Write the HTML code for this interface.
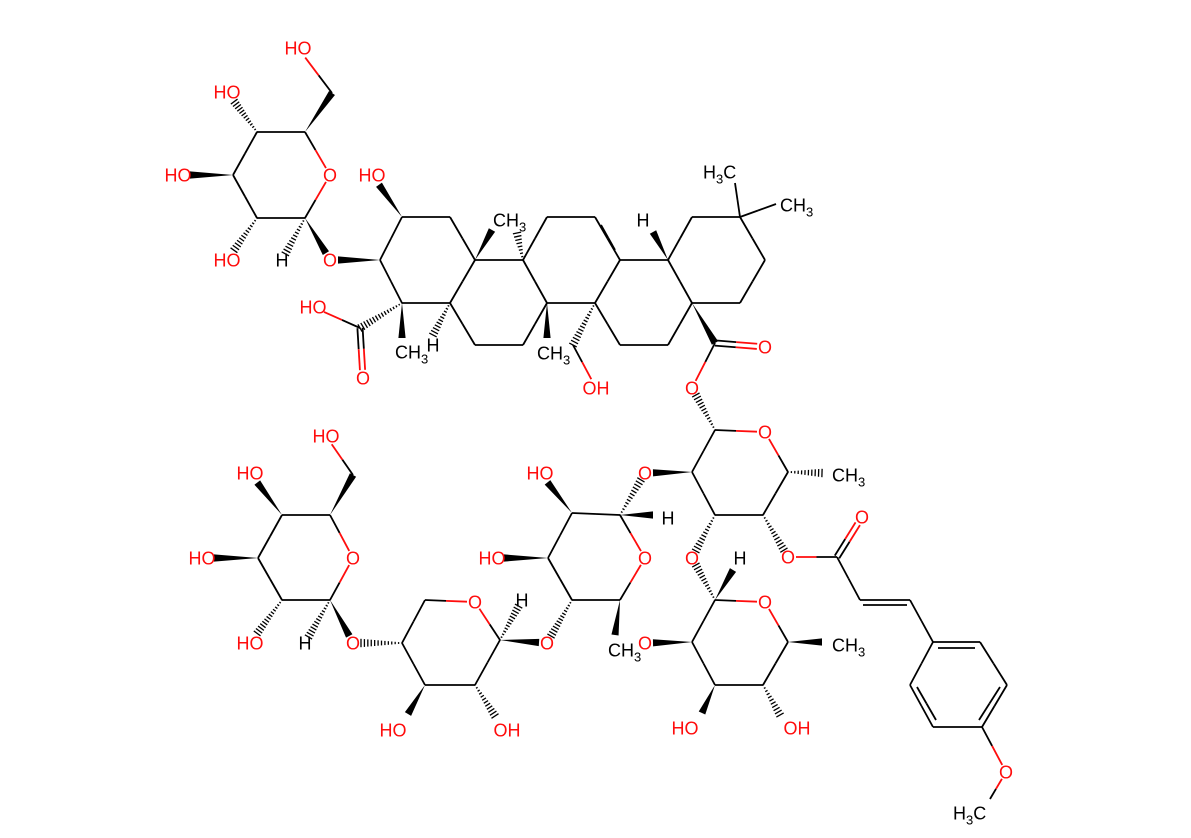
<!DOCTYPE html>
<html><head><meta charset="utf-8"><style>
html,body{margin:0;padding:0;background:#fff}
svg{display:block}
text{font-family:"Liberation Sans",sans-serif;font-size:18px}
</style></head><body>
<svg id="s" width="1191" height="838" xmlns="http://www.w3.org/2000/svg"></svg>
<script>
const S=document.getElementById('s');const NS='http://www.w3.org/2000/svg';
function el(n,a,p){const e=document.createElementNS(NS,n);for(const k in a)e.setAttribute(k,a[k]);(p||S).appendChild(e);return e;}
const R='#ff0d0d';
// labels: x,y,text,color,radius(anchor trim)
const L=[
[298,48,'HO',R,12],[227,92,'HO',R,12],[178,175,'HO',R,12],[330,175,'O',R,8],[227,260,'HO',R,12],[330,260,'O',R,8],
[372,175,'HO',R,12],[313,307,'HO',R,12],[363,378,'O',R,8],[596,388,'OH',R,10],[765,347,'O',R,8],[692,388,'O',R,8],
[765,432,'O',R,8],[645,473,'O',R,8],[788,557,'O',R,8],[862,517,'O',R,8],[692,558,'O',R,8],[765,602,'O',R,8],
[645,643,'O',R,8],[685,728,'HO',R,12],[797,728,'OH',R,12],[1006,772,'O',R,8],[645,558,'O',R,8],[540,473,'HO',R,12],
[492,558,'HO',R,12],[547,643,'O',R,8],[475,602,'O',R,8],[393,730,'HO',R,12],[507,730,'OH',R,12],[353,643,'O',R,8],
[326,436,'HO',R,10],[250,473,'HO',R,12],[202,558,'HO',R,12],[353,558,'O',R,8],[250,643,'HO',R,12],
[282,260,'H','#000',7],[433,345,'H','#000',0],[643,220,'H','#000',7],[668,518,'H','#000',7],[740,558,'H','#000',7],
[305,643,'H','#000',7],[522,600,'H','#000',7]
];
// CH3 labels: startx, y, type
const M=[[395,352,'C'],[493,220,'C'],[537,353,'C'],[780,205,'C'],[703,172,'H'],[832,475,'C'],[832,645,'C'],[608,650,'C'],[953,813,'H']];
const B=[
[332,93,298,48,'s'],[305,132,332,93,'w'],[305,132,330,175,'s'],[330,175,305,218,'s'],[305,218,257,218,'s'],[257,218,233,175,'s'],[233,175,257,132,'s'],[257,132,305,132,'s'],
[257,132,227,92,'h'],[233,175,178,175,'w'],[257,218,227,260,'h'],[305,218,282,260,'h'],[305,218,330,260,'w'],[380,260,330,260,'w'],
[380,260,402,217,'s'],[402,217,450,217,'s'],[450,217,475,260,'s'],[475,260,450,303,'s'],[450,303,402,303,'s'],[402,303,380,260,'s'],
[402,217,372,175,'w'],[402,303,360,328,'h'],[360,328,313,307,'s'],[360,328,363,378,'d'],[402,303,402,338,'w'],[450,303,433,335,'h'],
[475,260,492,230,'w'],[475,260,523,260,'s'],[523,260,517,233,'h'],[523,260,547,217,'s'],[547,217,595,217,'s'],[523,260,547,303,'s'],
[450,303,475,345,'s'],[475,345,523,345,'s'],[523,345,547,303,'s'],[547,303,547,338,'w'],[547,303,595,303,'s'],[595,303,573,345,'h'],[573,345,596,388,'s'],
[595,217,620,260,'s'],[601,225,615,250,'s'],[620,260,595,303,'s'],[620,260,668,260,'s'],[668,260,653,232,'w'],[668,260,692,217,'s'],[692,217,740,217,'s'],
[740,217,735,183,'s'],[740,217,776,204,'s'],[740,217,765,260,'s'],[765,260,740,303,'s'],[740,303,692,303,'s'],[692,303,668,260,'s'],
[692,303,668,345,'s'],[668,345,620,345,'s'],[620,345,595,303,'s'],[692,303,715,343,'w'],[715,343,765,347,'d'],[715,343,692,388,'s'],[715,430,692,388,'h'],
[715,430,765,432,'s'],[765,432,788,472,'s'],[788,472,822,473,'h'],[788,472,763,515,'s'],[763,515,715,515,'s'],[715,515,692,472,'s'],[692,472,715,430,'s'],
[692,472,645,473,'w'],[763,515,788,557,'h'],[788,557,837,557,'s'],[837,557,862,517,'d'],[837,557,860,600,'s'],[860,600,910,600,'s'],[863,605,907,605,'s'],[910,600,933,642,'s'],
[933,642,980,642,'s'],[980,642,1007,685,'s'],[1007,685,982,727,'s'],[982,727,933,727,'s'],[933,727,910,685,'s'],[910,685,933,642,'s'],
[938,648,975,648,'s'],[917,687,936,720,'s'],[1000,687,979,720,'s'],[982,727,1006,772,'s'],[1006,772,990,799,'s'],
[715,515,692,558,'h'],[715,600,692,558,'h'],[715,600,733,570,'w'],[715,600,765,602,'s'],[765,602,788,642,'s'],[788,642,822,642,'w'],
[788,642,763,685,'s'],[763,685,715,685,'s'],[715,685,692,642,'s'],[692,642,715,600,'s'],[692,642,645,643,'w'],[715,685,702,713,'w'],[763,685,780,715,'h'],
[620,515,645,473,'h'],[620,515,653,515,'w'],[620,515,572,513,'s'],[572,513,548,558,'s'],[548,558,572,600,'s'],[572,600,620,600,'s'],[620,600,645,558,'s'],[645,558,620,515,'s'],
[620,600,615,635,'w'],[572,513,540,473,'w'],[548,558,492,558,'w'],[572,600,547,643,'h'],
[500,640,547,643,'w'],[500,640,522,600,'h'],[500,640,475,602,'s'],[475,602,425,600,'s'],[425,600,402,643,'s'],[402,643,425,685,'s'],[425,685,475,685,'s'],[475,685,500,640,'s'],
[425,685,408,714,'w'],[475,685,495,716,'h'],[402,643,353,643,'h'],[330,600,353,643,'w'],
[330,600,282,600,'s'],[282,600,258,558,'s'],[258,558,282,515,'s'],[282,515,330,515,'s'],[330,515,353,558,'s'],[353,558,330,600,'s'],
[330,515,353,475,'w'],[353,475,326,436,'s'],[282,515,250,473,'w'],[258,558,202,558,'w'],[282,600,250,643,'h'],[330,600,305,643,'h']
];
function lab(x,y){for(const l of L){if(Math.hypot(l[0]-x,l[1]-y)<4)return l;}return null;}
for(const b of B){let [x1,y1,x2,y2,t]=b;const l1=lab(x1,y1),l2=lab(x2,y2);
 let dx=x2-x1,dy=y2-y1,len=Math.hypot(dx,dy),ux=dx/len,uy=dy/len;
 if(l1){x1+=ux*l1[4];y1+=uy*l1[4];}if(l2){x2-=ux*l2[4];y2-=uy*l2[4];}
 const c1=l1&&l1[3]==R?R:'#000',c2=l2&&l2[3]==R?R:'#000';const px=-uy,py=ux;
 const mx=(x1+x2)/2,my=(y1+y2)/2;
 if(t=='s'||t=='d'){const offs=t=='d'?[-2.6,2.6]:[0];
  for(const o of offs){el('line',{x1:x1+px*o,y1:y1+py*o,x2:mx+px*o,y2:my+py*o,stroke:c1,'stroke-width':1.8});
   el('line',{x1:mx+px*o,y1:my+py*o,x2:x2+px*o,y2:y2+py*o,stroke:c2,'stroke-width':1.8});}}
 else if(t=='w'){const w=3.6;el('polygon',{points:`${x1},${y1} ${x2+px*w},${y2+py*w} ${x2-px*w},${y2-py*w}`,fill:'#000'});}
 else{const L2=Math.hypot(x2-x1,y2-y1),n=Math.max(4,Math.round(L2/3.3));
  for(let i=0;i<=n;i++){const f=i/n,cx=x1+(x2-x1)*f,cy=y1+(y2-y1)*f,w=0.6+3.6*f;
   el('line',{x1:cx+px*w,y1:cy+py*w,x2:cx-px*w,y2:cy-py*w,stroke:'#000','stroke-width':1.3});}}
}
for(const l of L){if(!l[2])continue;const t=el('text',{x:l[0],y:l[1]+6.5,'text-anchor':'middle',fill:l[3]});t.textContent=l[2];}
for(const m of M){const t=el('text',{x:m[0],y:m[1]+6.5,fill:'#000'});
 if(m[2]=='C'){t.innerHTML='CH<tspan dy="5" font-size="13">3</tspan>';}
 else{t.innerHTML='H<tspan dy="5" font-size="13">3</tspan><tspan dy="-5">C</tspan>';}}
</script>
</body></html>
